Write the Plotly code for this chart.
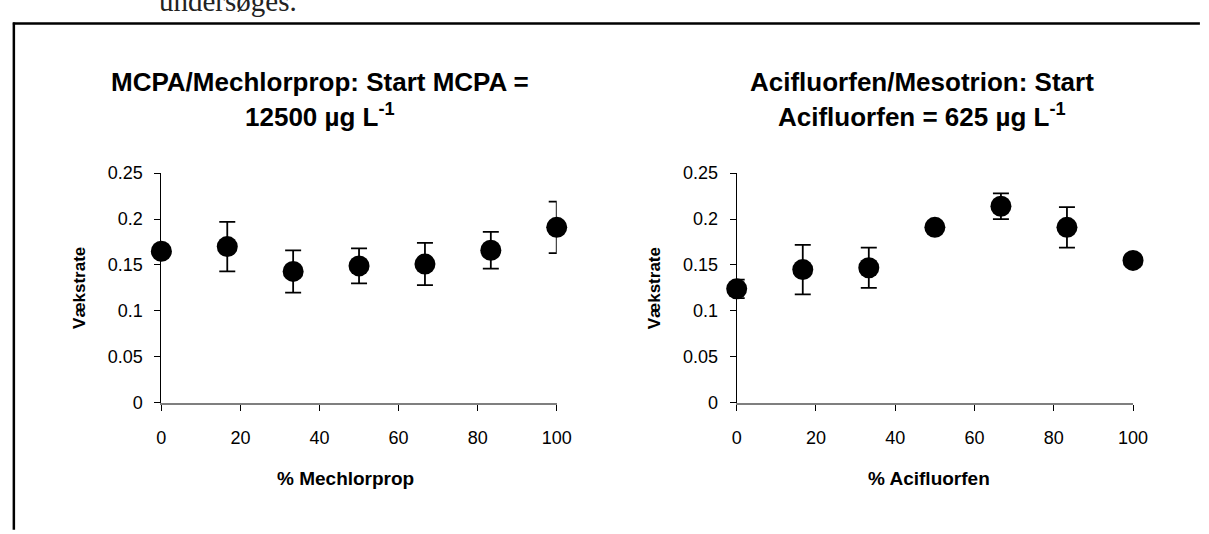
import plotly.graph_objects as go

W, H = 1209, 534

# ---- data ----
pct = [0, 16.67, 33.33, 50, 66.67, 83.33, 100]

mcpa_rate = [0.165, 0.170, 0.143, 0.149, 0.151, 0.166, 0.191]
mcpa_err = [0.004, 0.027, 0.023, 0.019, 0.023, 0.020, 0.028]

acif_rate = [0.124, 0.145, 0.147, 0.191, 0.214, 0.191, 0.155]
acif_err = [0.010, 0.027, 0.022, 0.003, 0.014, 0.022, 0.004]

x_ticks = [0, 20, 40, 60, 80, 100]
y_ticks = [0, 0.05, 0.1, 0.15, 0.2, 0.25]
y_tick_text = ["0", "0.05", "0.1", "0.15", "0.2", "0.25"]

titles_left = ["MCPA/Mechlorprop: Start MCPA =", "12500 µg L<sup>-1</sup>"]
titles_right = ["Acifluorfen/Mesotrion: Start", "Acifluorfen = 625 µg L<sup>-1</sup>"]
x_titles = ["% Mechlorprop", "% Acifluorfen"]
y_title = "Vækstrate"

FONT = "Liberation Sans, Arial, sans-serif"


def px(x):
    return x / W


def py(y):
    return 1 - y / H


fig = go.Figure()

for i, (yv, ev) in enumerate([(mcpa_rate, mcpa_err), (acif_rate, acif_err)]):
    fig.add_trace(go.Scatter(
        x=pct, y=yv, mode="markers",
        xaxis="x" if i == 0 else "x2", yaxis="y" if i == 0 else "y2",
        marker=dict(color="black", size=21, symbol="circle"),
        error_y=dict(type="data", array=ev, visible=True, color="black",
                     thickness=1.8, width=8),
        cliponaxis=False, showlegend=False, hoverinfo="x+y",
    ))

ydom = [py(408), py(169.5)]
common_x = dict(range=[0, 100], tickvals=x_ticks, ticks="outside", ticklen=6,
                tickcolor="black", tickwidth=1, showline=True, linecolor="#7f7f7f",
                linewidth=2, showgrid=False, zeroline=False,
                tickfont=dict(family=FONT, size=18, color="black"),
                ticklabelstandoff=12, fixedrange=True)
common_y = dict(range=[0, 0.25], tickvals=y_ticks, ticktext=y_tick_text,
                ticks="outside", ticklen=6, tickcolor="black", tickwidth=1,
                showline=True, linecolor="black", linewidth=1, showgrid=False,
                zeroline=False, tickfont=dict(family=FONT, size=18, color="black"),
                ticklabelstandoff=8, fixedrange=True, domain=ydom)

fig.update_layout(
    width=W, height=H,
    margin=dict(l=0, r=0, t=0, b=0),
    paper_bgcolor="white", plot_bgcolor="white",
    xaxis=dict(domain=[px(159), px(561)], anchor="y", **common_x),
    yaxis=dict(anchor="x", **common_y),
    xaxis2=dict(domain=[px(744), px(1147)], anchor="y2", **common_x),
    yaxis2=dict(anchor="x2", **common_y),
    showlegend=False,
)

ann = []
# chart titles
for cx, lines in [(320, titles_left), (932, titles_right)]:
    for ly, txt in zip([75, 110], lines):
        ann.append(dict(text="<b>" + txt + "</b>", x=px(cx), y=py(ly), xref="paper",
                        yref="paper", xanchor="center", yanchor="middle",
                        showarrow=False, font=dict(family=FONT, size=26, color="black")))
# x titles
for cx, txt in [(346, x_titles[0]), (940, x_titles[1])]:
    ann.append(dict(text="<b>" + txt + "</b>", x=px(cx), y=py(487), xref="paper",
                    yref="paper", xanchor="center", yanchor="middle", showarrow=False,
                    font=dict(family=FONT, size=19, color="black")))
# y titles
for cx in [75, 660]:
    ann.append(dict(text="<b>" + y_title + "</b>", x=px(cx), y=py(289), xref="paper",
                    yref="paper", xanchor="center", yanchor="middle", textangle=-90,
                    showarrow=False, font=dict(family=FONT, size=17, color="black")))
# cut-off body text above the frame
ann.append(dict(text="undersøges.", x=px(155), y=py(9), xref="paper", yref="paper",
                xanchor="left", yanchor="bottom", showarrow=False,
                font=dict(family="Liberation Serif, Times New Roman, serif", size=29,
                          color="#222222")))
fig.update_layout(annotations=ann)

# frame of the embedded chart
fig.add_shape(type="line", xref="paper", yref="paper", x0=px(8), x1=px(1215),
              y0=py(14), y1=py(14), line=dict(color="black", width=2.5))
fig.add_shape(type="line", xref="paper", yref="paper", x0=px(9), x1=px(9),
              y0=py(13), y1=py(540), line=dict(color="black", width=2.5))

fig.write_html("out.html")
